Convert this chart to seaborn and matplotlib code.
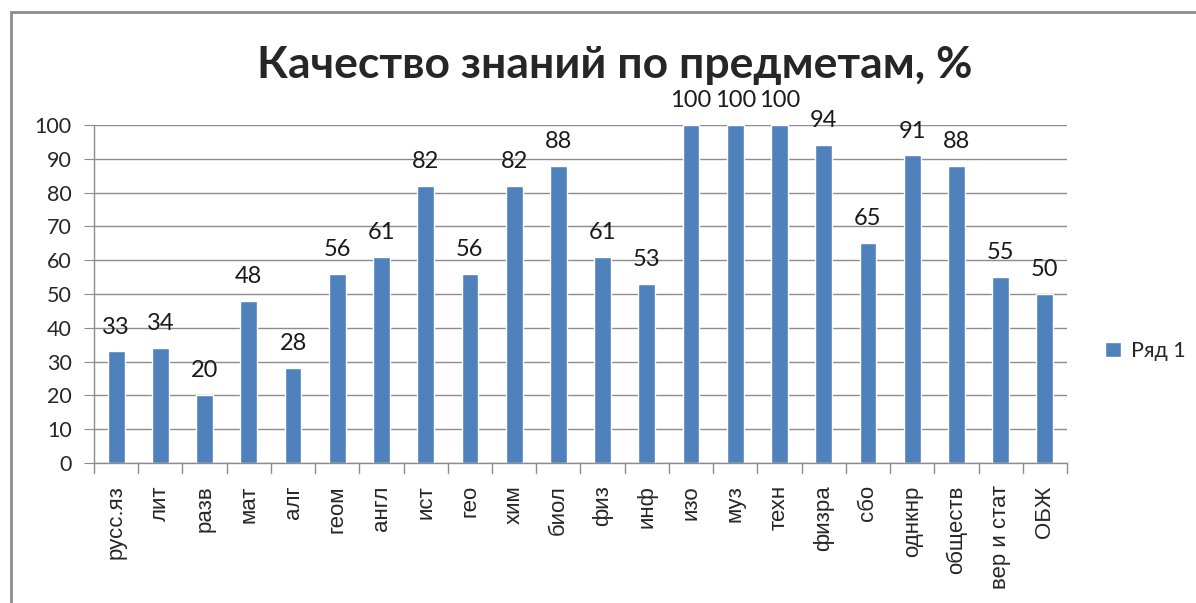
import pandas as pd
import seaborn as sns
import matplotlib.pyplot as plt
from matplotlib.patches import Rectangle

# Data
subjects = ['русс.яз', 'лит', 'разв', 'мат', 'алг', 'геом', 'англ', 'ист', 'гео', 'хим', 'биол',
            'физ', 'инф', 'изо', 'муз', 'техн', 'физра', 'сбо', 'однкнр', 'обществ', 'вер и стат', 'ОБЖ']
quality = [33, 34, 20, 48, 28, 56, 61, 82, 56, 82, 88, 61, 53, 100, 100, 100, 94, 65, 91, 88, 55, 50]
series_name = 'Ряд 1'

df = pd.DataFrame({'Предмет': subjects, 'Качество': quality, 'Ряд': series_name})

sns.set_style('white')
plt.rcParams['font.family'] = ['Liberation Sans', 'DejaVu Sans']
lato = ['Lato', 'DejaVu Sans']

fig = plt.figure(figsize=(11.96, 6.03), dpi=100)
ax = fig.add_axes([0.0786, 0.2322, 0.8135, 0.5605])

bar_color = '#4f81bd'
sns.barplot(data=df, x='Предмет', y='Качество', hue='Ряд', palette=[bar_color],
            saturation=1, width=0.38, ax=ax, legend=True)

ax.set_ylim(0, 100)
ax.set_xlim(-0.5, len(subjects) - 0.5)
ax.set_yticks(range(0, 101, 10))
ax.tick_params(axis='y', labelsize=15.5, length=7, color='#8c8c8c', direction='out', left=True, pad=9)
for lbl in ax.get_yticklabels():
    lbl.set_family(lato)
ax.set_xticks(range(len(subjects)))
ax.set_xticklabels(subjects, rotation=90)
ax.tick_params(axis='x', labelsize=16, length=0, pad=16)
ax.set_xlabel('')
ax.set_ylabel('')
ax.grid(axis='y', color='#8c8c8c', linewidth=1)
ax.set_axisbelow(True)

for side in ['top', 'right']:
    ax.spines[side].set_visible(False)
for side in ['left', 'bottom']:
    ax.spines[side].set_color('#8c8c8c')
    ax.spines[side].set_linewidth(1)

# category boundary ticks under the x axis
for b in range(len(subjects) + 1):
    ax.plot([b - 0.5, b - 0.5], [0, -3], color='#8c8c8c', linewidth=1, clip_on=False)

# value labels
for i, v in enumerate(quality):
    ax.annotate(str(v), (i, v), xytext=(0, 10), textcoords='offset points',
                ha='center', va='bottom', fontsize=17, family=lato, color='#1a1a1a')

# legend
ax.legend(loc='center left', bbox_to_anchor=(1105 / 1196, 1 - 351 / 603),
          bbox_transform=fig.transFigure, frameon=False, borderaxespad=0, borderpad=0,
          handlelength=0.75, handleheight=0.75, handletextpad=0.45,
          prop={'family': lato, 'size': 15.5})

fig.text(0.514, 0.893, 'Качество знаний по предметам, %', ha='center', va='center',
         fontsize=32, fontweight='bold', family=lato)

# chart frame (cut off at right and bottom)
fig.patches.append(Rectangle((11 / 1196, -0.1), 1.2, 1 - 12 / 603 + 0.1, transform=fig.transFigure,
                             fill=False, edgecolor='#8c8c8c', linewidth=2))

fig.savefig('out.png', dpi=100)
